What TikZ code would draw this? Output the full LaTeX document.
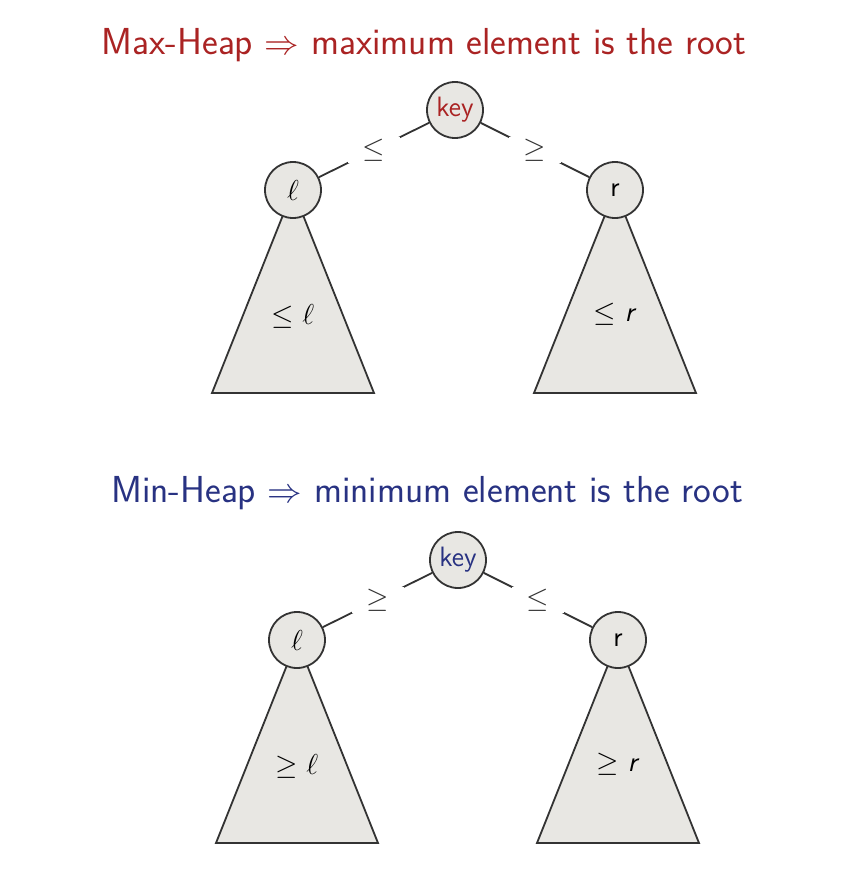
\documentclass[tikz,border=0pt]{standalone}
\usetikzlibrary{positioning,calc,backgrounds}
\definecolor{heapred}{RGB}{170,35,35}
\definecolor{heapblue}{RGB}{40,50,130}
\definecolor{heapgray}{RGB}{232,231,227}

\begin{document}
\begin{tikzpicture}[font=\sffamily\fontsize{14}{16}\selectfont]
    \tikzstyle{vertex}=[circle, draw=black!80, fill=heapgray, line width=0.9pt, minimum size=28pt, inner sep=0pt]
    \tikzstyle{subtree}=[draw=black!80, fill=heapgray, line width=0.9pt]
    \tikzstyle{link}=[draw=black!80, line width=0.9pt]
    \tikzstyle{rel}=[fill=white, inner sep=1pt, minimum width=26pt, text=black!80]
    \tikzstyle{title}=[font=\sffamily\fontsize{18.8}{22}\selectfont]
    \useasboundingbox (0,0) rectangle (423.5pt,-442pt);

    % max-heap
    \node (H1) [title, text=heapred] at (212pt,-22.5pt) {Max-Heap $\Rightarrow$ maximum element is the root};
    \node (K1) [vertex, text=heapred] at (227.5pt,-55pt) {key};
    \node (L1) [vertex, on grid, below left=40pt and 81pt of K1] {$\ell$};
    \node (R1) [vertex, on grid, below right=40pt and 80pt of K1] {r};
    \draw [link] (K1) -- node[rel]{$\leq$} (L1);
    \draw [link] (K1) -- node[rel]{$\geq$} (R1);
    \node (TL1) [on grid, below=63pt of L1] {$\leq \ell$};
    \node (TR1) [on grid, below=62pt of R1] {$\leq$ \textit{r}};

    % min-heap
    \node (H2) [title, text=heapblue] at (213.5pt,-246.5pt) {Min-Heap $\Rightarrow$ minimum element is the root};
    \node (K2) [vertex, text=heapblue] at (229pt,-280pt) {key};
    \node (L2) [vertex, on grid, below left=40pt and 80.5pt of K2] {$\ell$};
    \node (R2) [vertex, on grid, below right=40pt and 80pt of K2] {r};
    \draw [link] (K2) -- node[rel]{$\geq$} (L2);
    \draw [link] (K2) -- node[rel]{$\leq$} (R2);
    \node (TL2) [on grid, below=63pt of L2] {$\geq \ell$};
    \node (TR2) [on grid, below=62pt of R2] {$\geq$ \textit{r}};

    \begin{pgfonlayer}{background}
        \foreach \v in {L1,R1,L2,R2}
            \draw [subtree] (\v.center) -- ++(-40.5pt,-101.5pt) -- ++(81pt,0) -- cycle;
    \end{pgfonlayer}
\end{tikzpicture}
\end{document}
